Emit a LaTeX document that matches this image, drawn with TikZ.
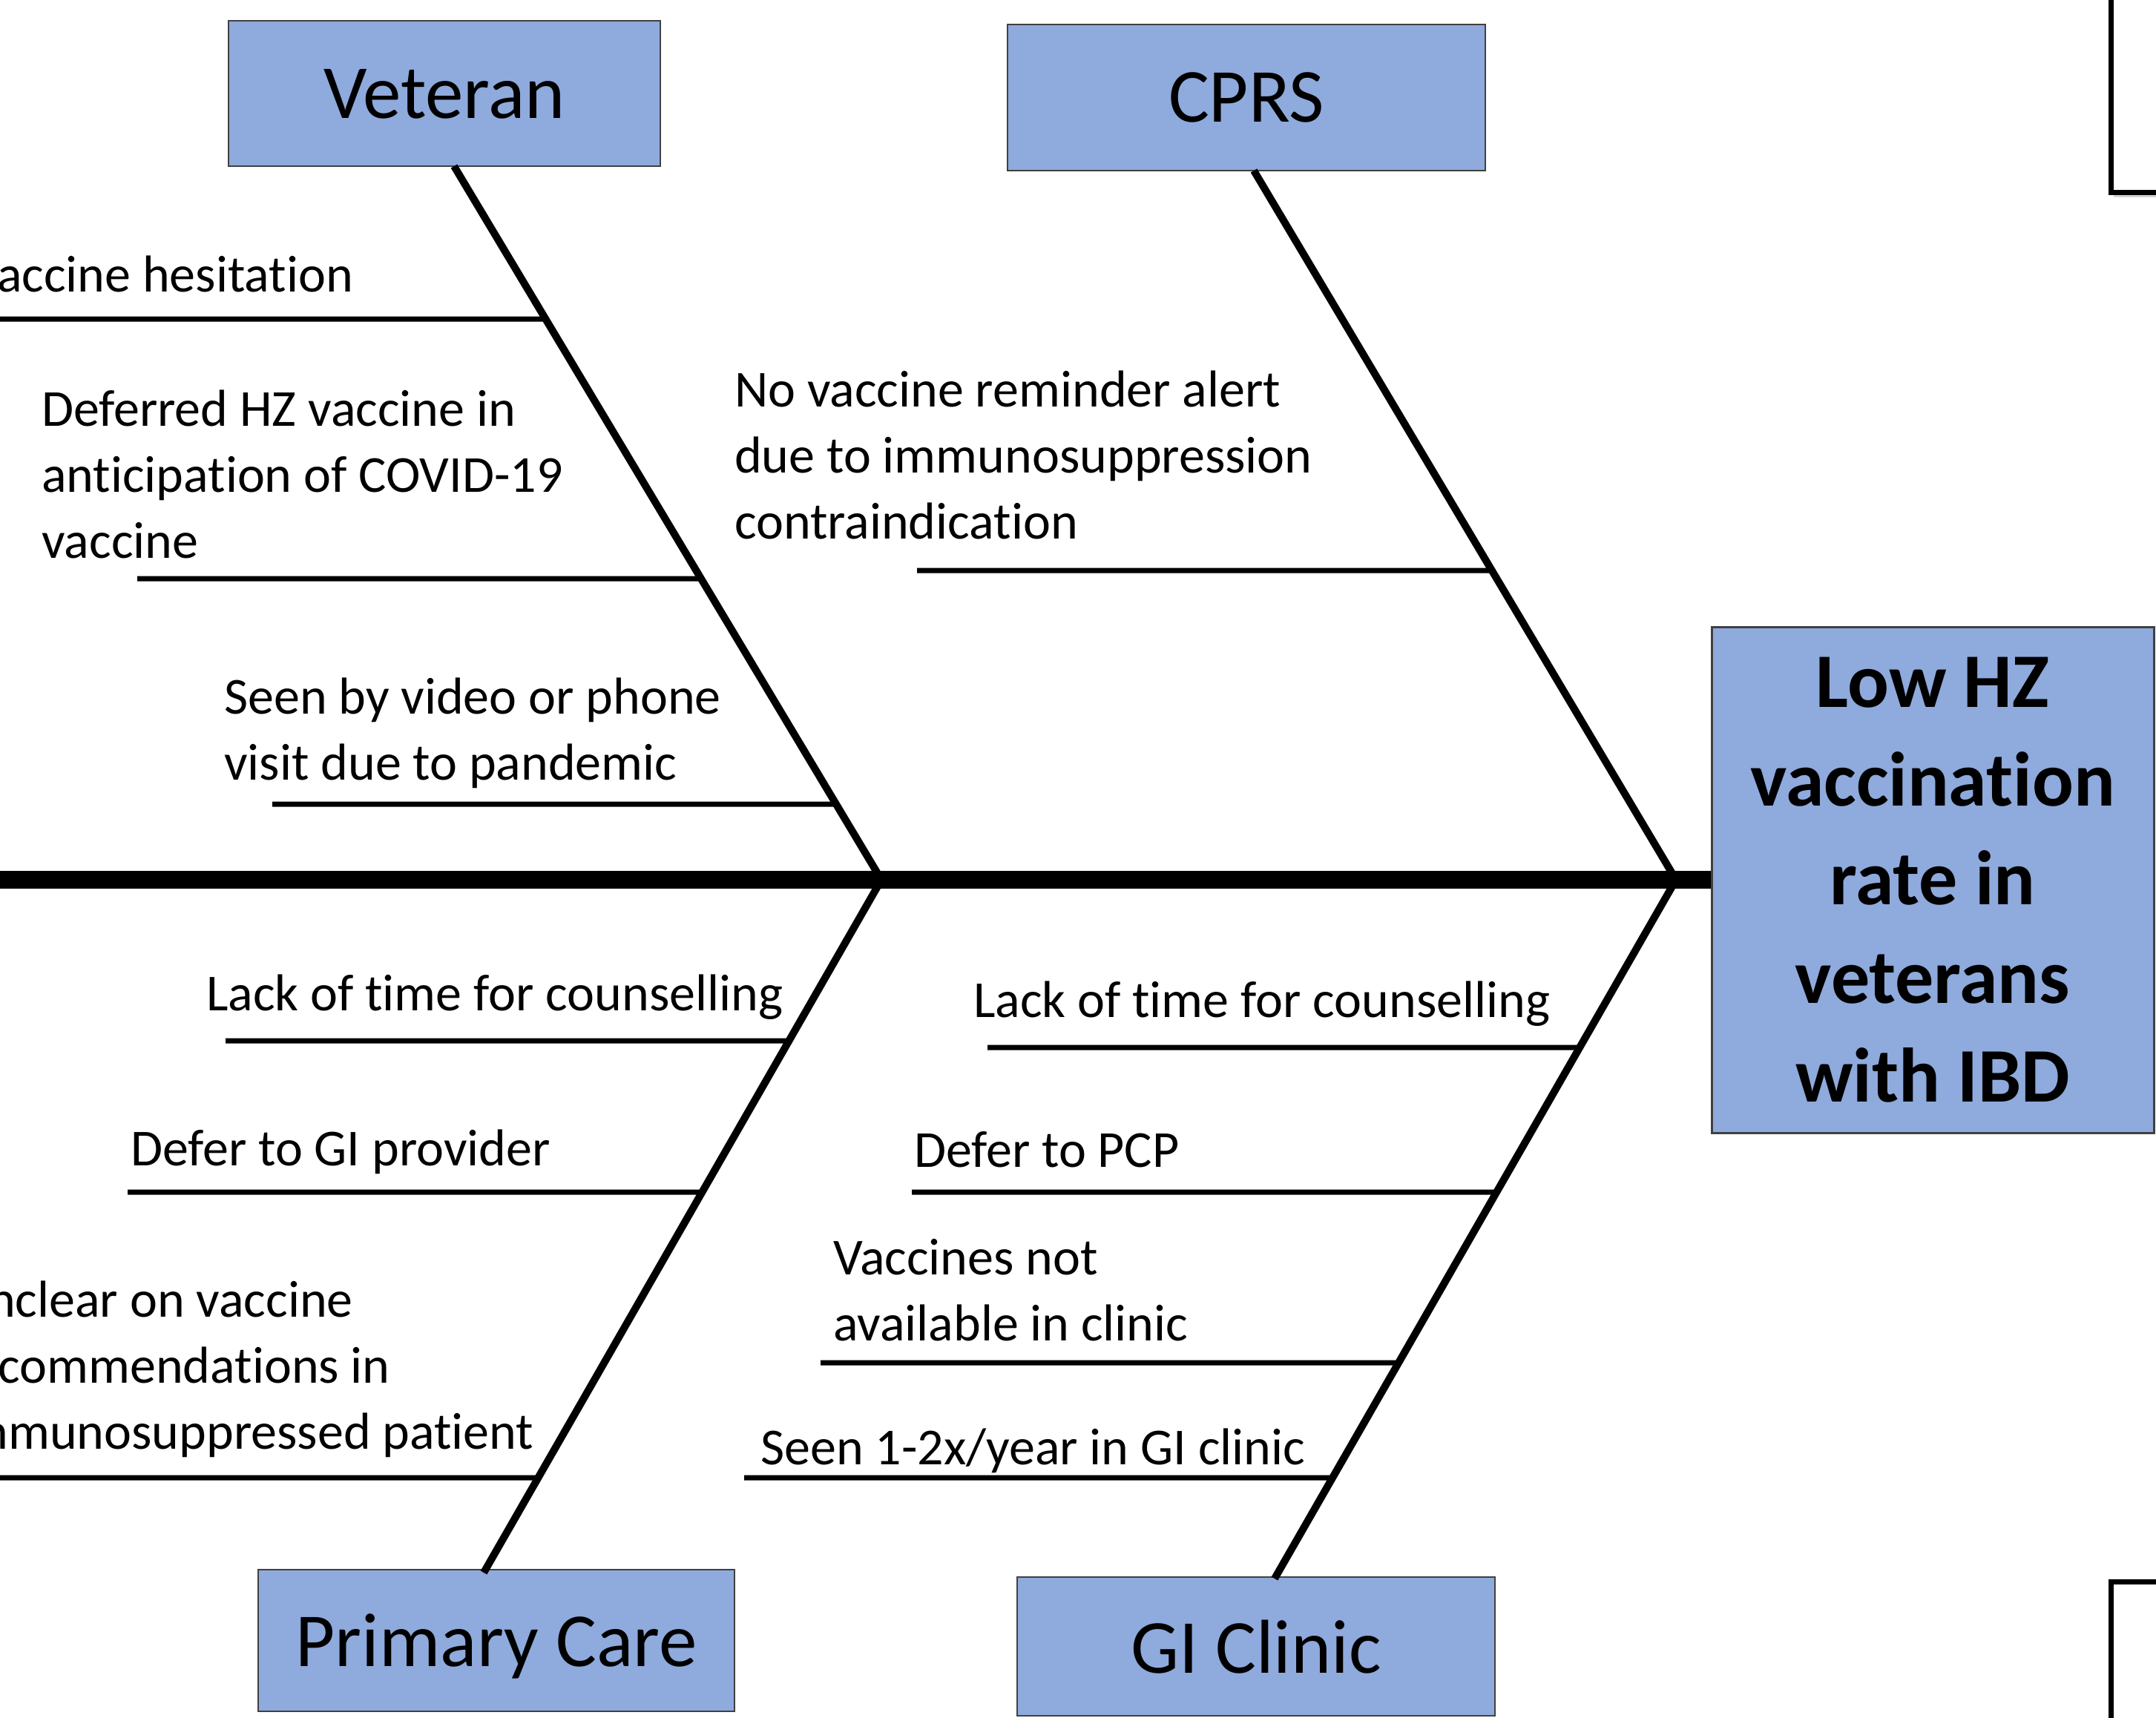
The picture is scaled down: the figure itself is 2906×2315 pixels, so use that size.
\documentclass[tikz,border=0pt]{standalone}
\usepackage{fontspec}
\setmainfont{Carlito}[Ligatures=NoCommon]
\usetikzlibrary{calc,shadows}
\definecolor{boxblue}{HTML}{8FAADC}
\begin{document}
\begin{tikzpicture}[x=1pt,y=-1pt,
  catbox/.style={draw=black!75, line width=2.5pt, fill=boxblue, inner sep=0pt, font=\fontsize{103}{120}\selectfont},
  labbox/.style={catbox, text depth=0pt},
  partbox/.style={draw=black, line width=7pt, fill=white, inner sep=0pt, drop shadow={shadow xshift=4pt,shadow yshift=-7pt,opacity=0.35}},
  bone/.style={line width=10pt},
  sub/.style={line width=7pt},
  cause/.style={anchor=base west, inner sep=0pt, align=left, font=\fontsize{70}{89}\selectfont},
  ]
\useasboundingbox (0,0) rectangle (2906,2315);

% partial boxes at right edge
\node[partbox, minimum width=210pt, minimum height=318pt] (tr) at (2950,100) {};
\node[partbox, minimum width=210pt, minimum height=300pt] (br) at (2950,2282) {};

% main effect box
\node[catbox, line width=3pt, minimum width=596pt, minimum height=682pt, align=center,
  font=\bfseries\fontsize{104}{133}\selectfont] (main) at (2605,1186)
  {Low HZ\\vaccination\\rate in\\veterans\\with IBD};

% category boxes
\node[labbox, minimum width=582pt, minimum height=196pt] (vet) at (599,126) {Veteran};
\node[labbox, minimum width=644pt, minimum height=197pt] (cprs) at (1680,131.5) {CPRS};
\node[labbox, minimum width=642pt, minimum height=191pt] (pc) at (669,2211.5) {Primary Care};
\node[labbox, minimum width=644pt, minimum height=187pt] (gi) at (1693,2219.5) {GI Clinic};

% spine
\coordinate (sp) at (-20,1186);
\draw[line width=24pt] (sp) -- (sp -| main.west);

% junctions and bone ends
\coordinate (j1) at (1188,1186);
\coordinate (j2) at (2259,1186);
\coordinate (vb) at (612,224);
\coordinate (cb) at (1690,230);
\coordinate (pb) at (652,2120);
\coordinate (gb) at (1718,2128);

\draw[bone] (vb) -- (j1);
\draw[bone] (cb) -- (j2);
\draw[bone] (pb) -- (j1);
\draw[bone] (gb) -- (j2);

% sub-cause lines
\coordinate (v1s) at (-10,430);
\coordinate (v1e) at (intersection cs: first line={(vb)--(j1)}, second line={(0,430)--(1,430)});
\coordinate (v2s) at (185,780);
\coordinate (v2e) at (intersection cs: first line={(vb)--(j1)}, second line={(0,780)--(1,780)});
\coordinate (v3s) at (367,1084);
\coordinate (v3e) at (intersection cs: first line={(vb)--(j1)}, second line={(0,1084)--(1,1084)});
\coordinate (c1s) at (1236,769);
\coordinate (c1e) at (intersection cs: first line={(cb)--(j2)}, second line={(0,769)--(1,769)});
\coordinate (p1s) at (304,1403);
\coordinate (p1e) at (intersection cs: first line={(pb)--(j1)}, second line={(0,1403)--(1,1403)});
\coordinate (p2s) at (172,1607);
\coordinate (p2e) at (intersection cs: first line={(pb)--(j1)}, second line={(0,1607)--(1,1607)});
\coordinate (p3s) at (-10,1992);
\coordinate (p3e) at (intersection cs: first line={(pb)--(j1)}, second line={(0,1992)--(1,1992)});
\coordinate (g1s) at (1331,1412);
\coordinate (g1e) at (intersection cs: first line={(gb)--(j2)}, second line={(0,1412)--(1,1412)});
\coordinate (g2s) at (1229,1607);
\coordinate (g2e) at (intersection cs: first line={(gb)--(j2)}, second line={(0,1607)--(1,1607)});
\coordinate (g3s) at (1106,1837);
\coordinate (g3e) at (intersection cs: first line={(gb)--(j2)}, second line={(0,1837)--(1,1837)});
\coordinate (g4s) at (1003,1992);
\coordinate (g4e) at (intersection cs: first line={(gb)--(j2)}, second line={(0,1992)--(1,1992)});

\foreach \s in {v1,v2,v3,c1,p1,p2,p3,g1,g2,g3,g4}
  \draw[sub] (\s s) -- (\s e);

% cause texts (multi-line nodes are placed at the baseline of their last line)
\node[cause] (t1) at (-40,393) {Vaccine hesitation};
\node[cause] (t2) at (56,752) {Deferred HZ vaccine in\\anticipation of COVID-19\\vaccine};
\node[cause] (t3) at (302,1051) {Seen by video or phone\\visit due to pandemic};
\node[cause] (t4) at (990,726) {No vaccine reminder alert\\due to immunosuppression\\contraindication};
\node[cause] (t5) at (278,1362) {Lack of time for counselling};
\node[cause] (t6) at (176,1571) {Defer to GI provider};
\node[cause] (t7) at (-61,1953) {Unclear on vaccine\\recommendations in\\immunosuppressed patient};
\node[cause] (t8) at (1312,1371) {Lack of time for counselling};
\node[cause] (t9) at (1232,1573) {Defer to PCP};
\node[cause] (t10) at (1123,1807) {Vaccines not\\available in clinic};
\node[cause] (t11) at (1025,1974) {Seen 1-2x/year in GI clinic};
\end{tikzpicture}
\end{document}
